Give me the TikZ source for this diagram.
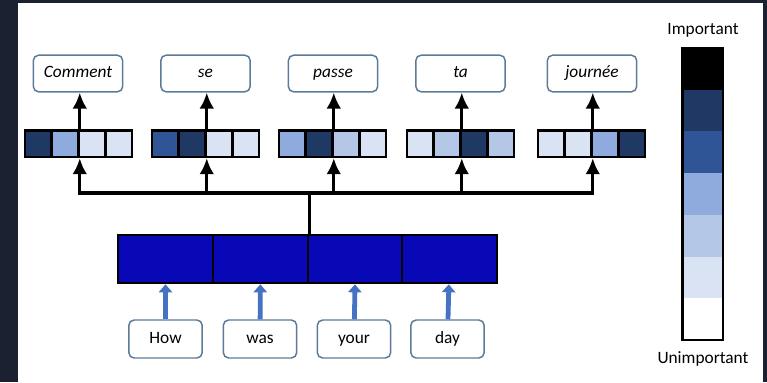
\documentclass[tikz,border=0pt]{standalone}
\usepackage{fontspec}
\setmainfont{Carlito}
\usetikzlibrary{arrows.meta,calc,positioning}
\definecolor{frame}{HTML}{1B2130}
\definecolor{enc}{RGB}{8,8,182}
\definecolor{wbox}{HTML}{5B7B98}
\definecolor{cA}{HTML}{203864}
\definecolor{cB}{HTML}{2F5597}
\definecolor{cC}{HTML}{8FAADC}
\definecolor{cD}{HTML}{B4C7E7}
\definecolor{cE}{HTML}{DAE3F3}
\definecolor{feedblue}{HTML}{4472C4}
\tikzset{>=latex,%
  every node/.style={font=\fontsize{13}{15}\selectfont},
  word/.style={draw=wbox,line width=1.1pt,rounded corners=4pt,fill=white,
    minimum width=67pt,minimum height=27.5pt,inner sep=0pt,
    text height=9pt,text depth=3pt,
    font=\fontsize{13}{15}\selectfont\itshape},
  inword/.style={draw=wbox,line width=1.1pt,rounded corners=4pt,fill=white,
    minimum width=55pt,minimum height=28.5pt,inner sep=0pt,
    text height=9pt,text depth=3pt},
  cell/.style={draw=black,line width=2pt,minimum width=20pt,minimum height=20pt,
    inner sep=0pt},
  enccell/.style={draw=black,line width=2pt,fill=enc,minimum width=71.2pt,
    minimum height=36pt,inner sep=0pt},
  up/.style={line width=2.3pt,-{Latex[length=12pt,width=11pt]}},
  feed/.style={feedblue,line width=3.6pt,-{Triangle[length=6pt,width=10pt]}}}

\begin{document}
\begin{tikzpicture}[x=0.75pt,y=-0.75pt]
  \useasboundingbox (0,0) rectangle (767,382);
  \fill[frame] (0,0) rectangle (767,382);
  \fill[white] (18,3) rectangle (763,382);
  % output words
  \foreach \n/\x/\t in {1/78/Comment,2/205.5/se,3/333/passe,4/460.5/ta,5/592/journée}
    \node[word] (w\n) at (\x,73.5) {\t};
  % attention weights
  \foreach \n/\l/\ca/\cb/\cc/\cd in {1/25/cA/cC/cE/cE,2/152/cB/cA/cE/cE,
      3/279/cC/cA/cD/cE,4/407/cE/cD/cA/cD,5/538/cE/cE/cC/cA} {
    \node[cell,fill=\ca] (c\n1) at (\l+13.4,143.5) {};
    \node[cell,fill=\cb] (c\n2) at (\l+40.1,143.5) {};
    \node[cell,fill=\cc] (c\n3) at (\l+66.9,143.5) {};
    \node[cell,fill=\cd] (c\n4) at (\l+93.6,143.5) {};
    \draw[up] (c\n2.north east) -- (w\n.south -| c\n2.north east);
  }
  % encoder
  \foreach \n/\x in {1/165.5,2/260.5,3/355.5,4/449.5}
    \node[enccell] (e\n) at (\x,259) {};
  \coordinate (bus) at (308,193);
  \draw[line width=2.3pt,line cap=rect] (c12.south east |- bus) -- (c52.south east |- bus);
  \draw[line width=2.3pt] (e2.north east) -- (e2.north east |- bus);
  \foreach \n in {1,...,5}
    \draw[up] (c\n2.south east |- bus) -- (c\n2.south east);
  % input words
  \foreach \n/\x/\t in {1/165.5/How,2/260/was,3/354/your,4/447.5/day} {
    \node[inword] (i\n) at (\x,339) {\t};
    \draw[feed] (i\n) -- (e\n);
  }
  % legend
  \foreach \k/\c in {0/black,1/cA,2/cB,3/cC,4/cD,5/cE,6/white}
    \fill[\c] (682,48+41.7*\k) rectangle (723,48+41.7*\k+41.7);
  \node[draw,line width=2.2pt,minimum width=30.7pt,minimum height=219pt,inner sep=0pt]
    (scale) at (702.5,194) {};
  \node (imp) at (703,30) {Important};
  \node (unimp) at (703,359) {Unimportant};
\end{tikzpicture}
\end{document}
